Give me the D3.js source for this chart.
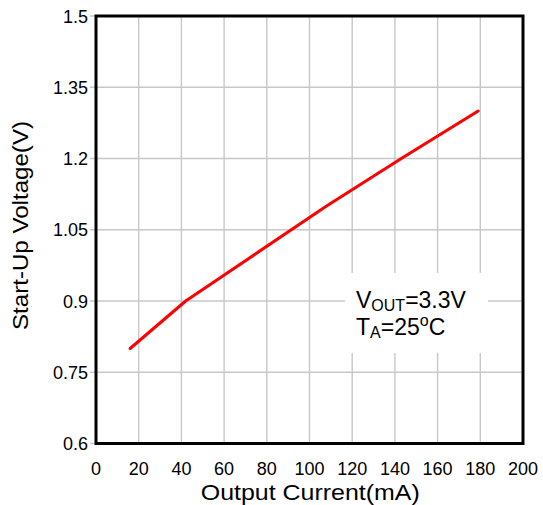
<!DOCTYPE html>
<html><head><meta charset="utf-8">
<script src="https://cdn.jsdelivr.net/npm/d3@7"></script>
<style>body{margin:0;background:#fff}svg{display:block}text{font-family:"Liberation Sans",Arial,sans-serif;fill:#000}</style>
</head><body>
<svg id="c" width="543" height="505"></svg>
<script>
const currents = [16, 42, 108, 143, 179];
const voltages = [0.80, 0.90, 1.10, 1.20, 1.30];
const xTicks = [0, 20, 40, 60, 80, 100, 120, 140, 160, 180, 200];
const yTicks = [0.6, 0.75, 0.9, 1.05, 1.2, 1.35, 1.5];
const yTickLabels = ["0.6", "0.75", "0.9", "1.05", "1.2", "1.35", "1.5"];

const svg = d3.select("#c");
const L = 96, R = 523, T = 16, B = 443.5;
const x = d3.scaleLinear().domain([0, 200]).range([L, R]);
const y = d3.scaleLinear().domain([0.6, 1.5]).range([B, T]);

// grid
const g = svg.append("g");
g.selectAll(".vx").data(xTicks).enter().append("line")
  .attr("x1", d => x(d)).attr("x2", d => x(d)).attr("y1", T).attr("y2", B)
  .attr("stroke", "#c8c8c8").attr("stroke-width", 1.4);
g.selectAll(".hy").data(yTicks).enter().append("line")
  .attr("x1", L - 6).attr("x2", R).attr("y1", d => y(d)).attr("y2", d => y(d))
  .attr("stroke", "#c8c8c8").attr("stroke-width", 1.4);

// annotation background
svg.append("rect").attr("x", 345).attr("y", 273).attr("width", 143).attr("height", 80).attr("fill", "#fff");

// line
const line = d3.line().x((d, i) => x(currents[i])).y(d => y(d));
svg.append("path").datum(voltages).attr("d", line)
  .attr("fill", "none").attr("stroke", "#ff0000").attr("stroke-width", 3).attr("stroke-linejoin", "round").attr("stroke-linecap", "round");

// frame
svg.append("rect").attr("x", L).attr("y", T).attr("width", R - L).attr("height", B - T)
  .attr("fill", "none").attr("stroke", "#000").attr("stroke-width", 3);

// tick labels
svg.selectAll(".xl").data(xTicks).enter().append("text")
  .attr("x", d => x(d)).attr("y", 475).attr("text-anchor", "middle").attr("font-size", 18).text(d => d);
svg.selectAll(".yl").data(yTicks).enter().append("text")
  .attr("x", 88).attr("y", d => y(d) + 6.5).attr("text-anchor", "end").attr("font-size", 18).text((d, i) => yTickLabels[i]);

// axis titles
svg.append("text").attr("x", 310.3).attr("y", 500).attr("text-anchor", "middle").attr("font-size", 22)
  .attr("textLength", 219).attr("lengthAdjust", "spacingAndGlyphs").text("Output Current(mA)");
svg.append("text").attr("transform", "translate(28,225.5) rotate(-90)").attr("text-anchor", "middle").attr("font-size", 22)
  .attr("textLength", 209).attr("lengthAdjust", "spacingAndGlyphs").text("Start-Up Voltage(V)");

// annotation
const t1 = svg.append("text").attr("x", 356).attr("y", 308).attr("font-size", 23);
t1.append("tspan").text("V");
t1.append("tspan").attr("font-size", 16).attr("dy", 3).text("OUT");
t1.append("tspan").attr("dy", -3).text("=3.3V");
const t2 = svg.append("text").attr("x", 356).attr("y", 335).attr("font-size", 23);
t2.append("tspan").text("T");
t2.append("tspan").attr("font-size", 16).attr("dy", 3).text("A");
t2.append("tspan").attr("dy", -3).text("=25");
t2.append("tspan").attr("font-size", 16).attr("dy", -9).text("o");
t2.append("tspan").attr("dy", 9).text("C");
</script>
</body></html>
